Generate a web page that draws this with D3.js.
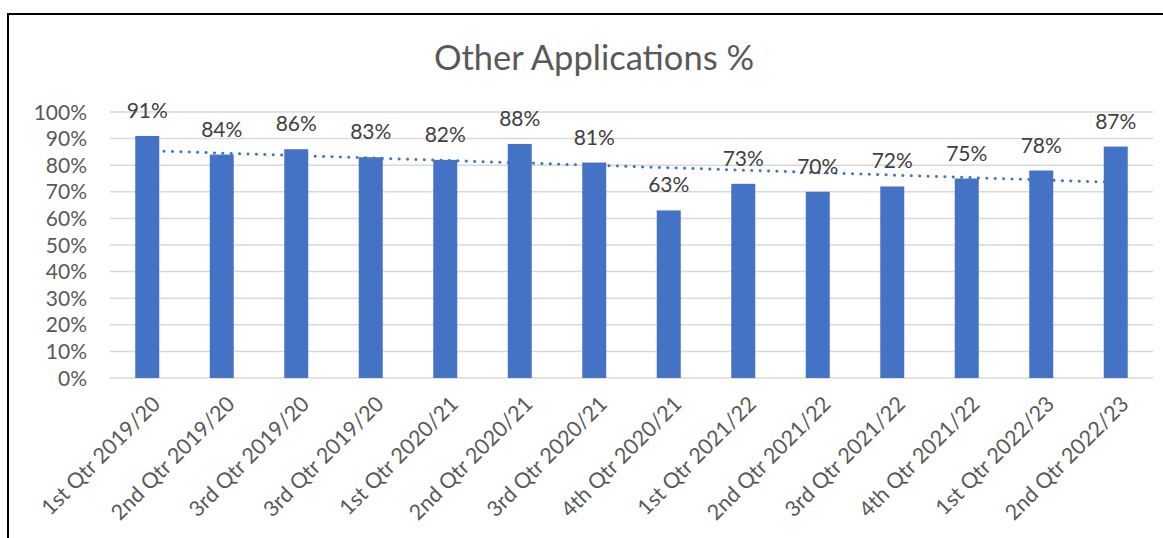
<!DOCTYPE html>
<html>
<head>
<meta charset="utf-8">
<script src="https://cdn.jsdelivr.net/npm/d3@7"></script>
<style>
  html, body { margin: 0; padding: 0; background: #fff; }
  svg { display: block; font-family: Lato, "Open Sans", sans-serif; }
</style>
</head>
<body>
<div id="chart"></div>
<script>
// 四半期ごとの割合（%）
var QUARTERS = ['1st Qtr 2019/20', '2nd Qtr 2019/20', '3rd Qtr 2019/20', '3rd Qtr 2019/20',
                '1st Qtr 2020/21', '2nd Qtr 2020/21', '3rd Qtr 2020/21', '4th Qtr 2020/21',
                '1st Qtr 2021/22', '2nd Qtr 2021/22', '3rd Qtr 2021/22', '4th Qtr 2021/22',
                '1st Qtr 2022/23', '2nd Qtr 2022/23'];
var VALUES = [91, 84, 86, 83, 82, 88, 81, 63, 73, 70, 72, 75, 78, 87];
var Y_TICKS = [0, 10, 20, 30, 40, 50, 60, 70, 80, 90, 100];
var TITLE = 'Other Applications %';

(function () {
    var W = 1163, H = 538;
    var ml = 110, mr = 10, mt = 112, mb = 160;
    var pw = W - ml - mr, ph = H - mt - mb;   // plot: 110..1153, 112..378

    var svg = d3.select('#chart').append('svg')
        .attr('width', W).attr('height', H);

    // chart frame (left + top visible)
    svg.append('rect').attr('x', 8).attr('y', 14)
        .attr('width', W + 20).attr('height', H + 20)
        .attr('fill', '#fff').attr('stroke', '#000').attr('stroke-width', 2);

    var x = d3.scaleBand().domain(d3.range(QUARTERS.length))
        .range([ml, ml + pw]).paddingInner(0.678).paddingOuter(0.339);
    var y = d3.scaleLinear().domain([0, 100]).range([mt + ph, mt]);

    svg.append('text').attr('x', 594).attr('y', 70)
        .attr('text-anchor', 'middle').attr('font-size', 34.5).attr('fill', '#595959')
        .text(TITLE);

    // grid
    svg.append('g').selectAll('line').data(Y_TICKS).enter().append('line')
        .attr('x1', ml).attr('x2', ml + pw)
        .attr('y1', function (d) { return y(d); }).attr('y2', function (d) { return y(d); })
        .attr('stroke', '#d9d9d9').attr('stroke-width', 1.5);

    svg.append('g').selectAll('text').data(Y_TICKS).enter().append('text')
        .attr('x', 87).attr('y', function (d) { return y(d) + 7.5; })
        .attr('text-anchor', 'end').attr('font-size', 21).attr('fill', '#595959')
        .text(function (d) { return d + '%'; });

    // bars
    svg.append('g').selectAll('rect').data(VALUES).enter().append('rect')
        .attr('x', function (d, i) { return x(i); })
        .attr('y', function (d) { return y(d); })
        .attr('width', x.bandwidth())
        .attr('height', function (d) { return y(0) - y(d); })
        .attr('fill', '#4472c4');

    // linear trendline
    var n = VALUES.length, mx = (n - 1) / 2, my = d3.mean(VALUES);
    var sxy = d3.sum(VALUES, function (v, i) { return (i - mx) * (v - my); });
    var sxx = d3.sum(VALUES, function (v, i) { return (i - mx) * (i - mx); });
    var slope = sxy / sxx, icpt = my - slope * mx;
    var cx = function (i) { return x(i) + x.bandwidth() / 2; };
    svg.append('line')
        .attr('x1', cx(0)).attr('y1', y(icpt))
        .attr('x2', cx(n - 1)).attr('y2', y(icpt + slope * (n - 1)))
        .attr('stroke', '#4472c4').attr('stroke-width', 3)
        .attr('stroke-linecap', 'round').attr('stroke-dasharray', '0.1,8.3');

    // data labels
    svg.append('g').selectAll('text').data(VALUES).enter().append('text')
        .attr('x', function (d, i) { return cx(i); })
        .attr('y', function (d) { return y(d) - 18; })
        .attr('text-anchor', 'middle').attr('font-size', 21).attr('fill', '#404040')
        .text(function (d) { return d + '%'; });

    // category labels, rotated
    svg.append('g').selectAll('text').data(QUARTERS).enter().append('text')
        .attr('transform', function (d, i) {
            return 'translate(' + (cx(i) + 9) + ',' + (y(0) + 22) + ') rotate(-45)';
        })
        .attr('text-anchor', 'end').attr('dy', '0.35em')
        .attr('font-size', 21.5).attr('fill', '#595959')
        .text(function (d) { return d; });
})();
</script>
</body>
</html>
